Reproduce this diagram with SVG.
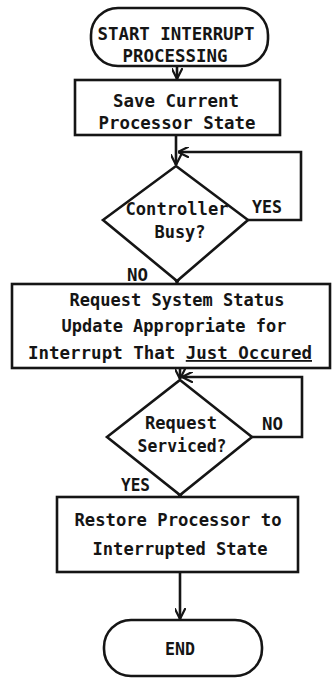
<svg xmlns="http://www.w3.org/2000/svg" width="332" height="678" viewBox="0 0 332 678">
<defs>
<marker id="arr" viewBox="0 0 10 10" refX="10" refY="5" markerWidth="11" markerHeight="11" markerUnits="userSpaceOnUse" orient="auto">
<path d="M0,0 L10,5 L0,10" fill="none" stroke="#151515" stroke-width="2"/>
</marker>
</defs>
<style>
.s{fill:#fff;stroke:#151515;stroke-width:2.6}
.c{fill:none;stroke:#151515;stroke-width:2.6}
text{font-family:"DejaVu Sans Mono","Liberation Mono",monospace;font-weight:bold;font-size:18px;fill:#151515}
.m{text-anchor:middle}
</style>
<rect width="332" height="678" fill="#fff"/>
<g id="connectors">
<line class="c" x1="177" y1="66" x2="177" y2="79" marker-end="url(#arr)"/>
<line class="c" x1="176" y1="135" x2="176" y2="165" marker-end="url(#arr)"/>
<polyline class="c" points="248,220 301,220 301,152 178,152" marker-end="url(#arr)"/>
<line class="c" x1="177" y1="278" x2="177" y2="283" marker-end="url(#arr)"/>
<line class="c" x1="180" y1="368" x2="180" y2="379" marker-end="url(#arr)"/>
<polyline class="c" points="252,437 302,437 302,377 182,377" marker-end="url(#arr)"/>
<line class="c" x1="180" y1="492" x2="180" y2="497" marker-end="url(#arr)"/>
<line class="c" x1="180" y1="572" x2="180" y2="619" marker-end="url(#arr)"/>
</g>
<g id="start">
<rect class="s" x="91" y="8" width="177" height="58" rx="27" ry="27"/>
<text class="m" x="176" y="40" textLength="157" lengthAdjust="spacingAndGlyphs">START INTERRUPT</text>
<text class="m" x="175" y="62" textLength="105" lengthAdjust="spacingAndGlyphs">PROCESSING</text>
</g>
<g id="save">
<rect class="s" x="75" y="80" width="205" height="55"/>
<text class="m" x="176" y="107" textLength="126" lengthAdjust="spacingAndGlyphs">Save Current</text>
<text class="m" x="177" y="129" textLength="157" lengthAdjust="spacingAndGlyphs">Processor State</text>
</g>
<g id="busy">
<polygon class="s" points="176,166 248,220 177,281 103,220"/>
<text class="m" x="177" y="215" textLength="103" lengthAdjust="spacingAndGlyphs">Controller</text>
<text class="m" x="180" y="238" textLength="51" lengthAdjust="spacingAndGlyphs">Busy?</text>
<text x="252" y="213" textLength="30" lengthAdjust="spacingAndGlyphs">YES</text>
<text x="127" y="281" textLength="21" lengthAdjust="spacingAndGlyphs">NO</text>
</g>
<g id="request">
<rect class="s" x="12" y="284" width="318" height="84"/>
<text class="m" x="177" y="306" textLength="215" lengthAdjust="spacingAndGlyphs">Request System Status</text>
<text class="m" x="174" y="332" textLength="225" lengthAdjust="spacingAndGlyphs">Update Appropriate for</text>
<text class="m" x="170" y="359" textLength="284" lengthAdjust="spacingAndGlyphs">Interrupt That <tspan text-decoration="underline">Just Occured</tspan></text>
</g>
<g id="serviced">
<polygon class="s" points="180,380 252,437 180,495 107,437"/>
<text class="m" x="181" y="429" textLength="72" lengthAdjust="spacingAndGlyphs">Request</text>
<text class="m" x="182" y="452" textLength="89" lengthAdjust="spacingAndGlyphs">Serviced?</text>
<text x="262" y="430" textLength="21" lengthAdjust="spacingAndGlyphs">NO</text>
<text x="121" y="491" textLength="29" lengthAdjust="spacingAndGlyphs">YES</text>
</g>
<g id="restore">
<rect class="s" x="57" y="497" width="241" height="75"/>
<text class="m" x="178" y="526" textLength="207" lengthAdjust="spacingAndGlyphs">Restore Processor to</text>
<text class="m" x="180" y="555" textLength="175" lengthAdjust="spacingAndGlyphs">Interrupted State</text>
</g>
<g id="end">
<rect class="s" x="104" y="620" width="158" height="56" rx="27" ry="27"/>
<text class="m" x="180" y="655" textLength="30" lengthAdjust="spacingAndGlyphs">END</text>
</g>
</svg>
